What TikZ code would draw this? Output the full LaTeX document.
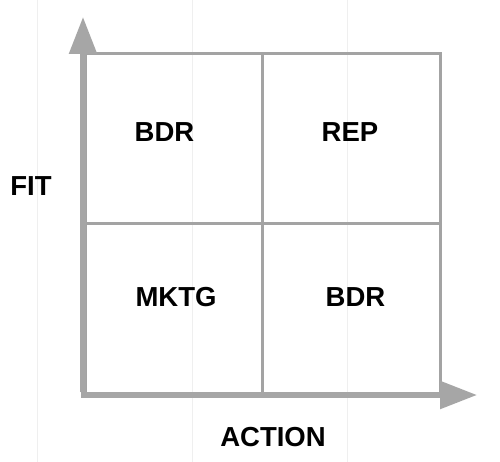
\documentclass[tikz,border=0pt]{standalone}
\usepackage{fontspec}
\setmainfont{Liberation Sans}
\usetikzlibrary{arrows.meta}
\definecolor{axisgray}{HTML}{A6A6A6}
\definecolor{gridgray}{HTML}{A3A3A3}
\definecolor{faint}{HTML}{EFEFEF}
\begin{document}
\begin{tikzpicture}[x=1pt,y=-1pt,
  lbl/.style={inner sep=0pt,font=\fontsize{27.5}{30}\selectfont\bfseries,text=black},
  gridline/.style={draw=gridgray,line width=3pt},
  axis/.style={draw=axisgray,line width=5.5pt,-{Triangle[length=37pt,width=27pt]}},
  faintline/.style={draw=faint,line width=1pt}]
\useasboundingbox (0,0) rectangle (500,462);
\fill[white] (0,0) rectangle (500,462);
% faint background lines
\foreach \x in {37,192,347} \draw[faintline] (\x,0) -- (\x,462);
% grid
\coordinate (tl) at (85,54);
\coordinate (br) at (440,395);
\coordinate (mt) at (262,54);
\coordinate (mb) at (262,395);
\coordinate (ml) at (85,224);
\coordinate (mr) at (440,224);
\draw[gridline] (tl) rectangle (br);
\draw[gridline] (mt) -- (mb);
\draw[gridline] (ml) -- (mr);
% axes
\coordinate (o) at (83,395);
\coordinate (ytip) at (83,17);
\coordinate (xtip) at (477,395);
\draw[axis] ([yshift=3pt]o) -- (ytip);
\draw[axis] ([xshift=-2.5pt]o) -- (xtip);
% labels
\node[lbl] (q1) at (164.5,132) {BDR};
\node[lbl] (q2) at (350,132) {REP};
\node[lbl] (q3) at (176,297) {MKTG};
\node[lbl] (q4) at (355.5,297) {BDR};
\node[lbl] (fit) at (31,186) {FIT};
\node[lbl] (action) at (273,437) {ACTION};
\end{tikzpicture}
\end{document}
